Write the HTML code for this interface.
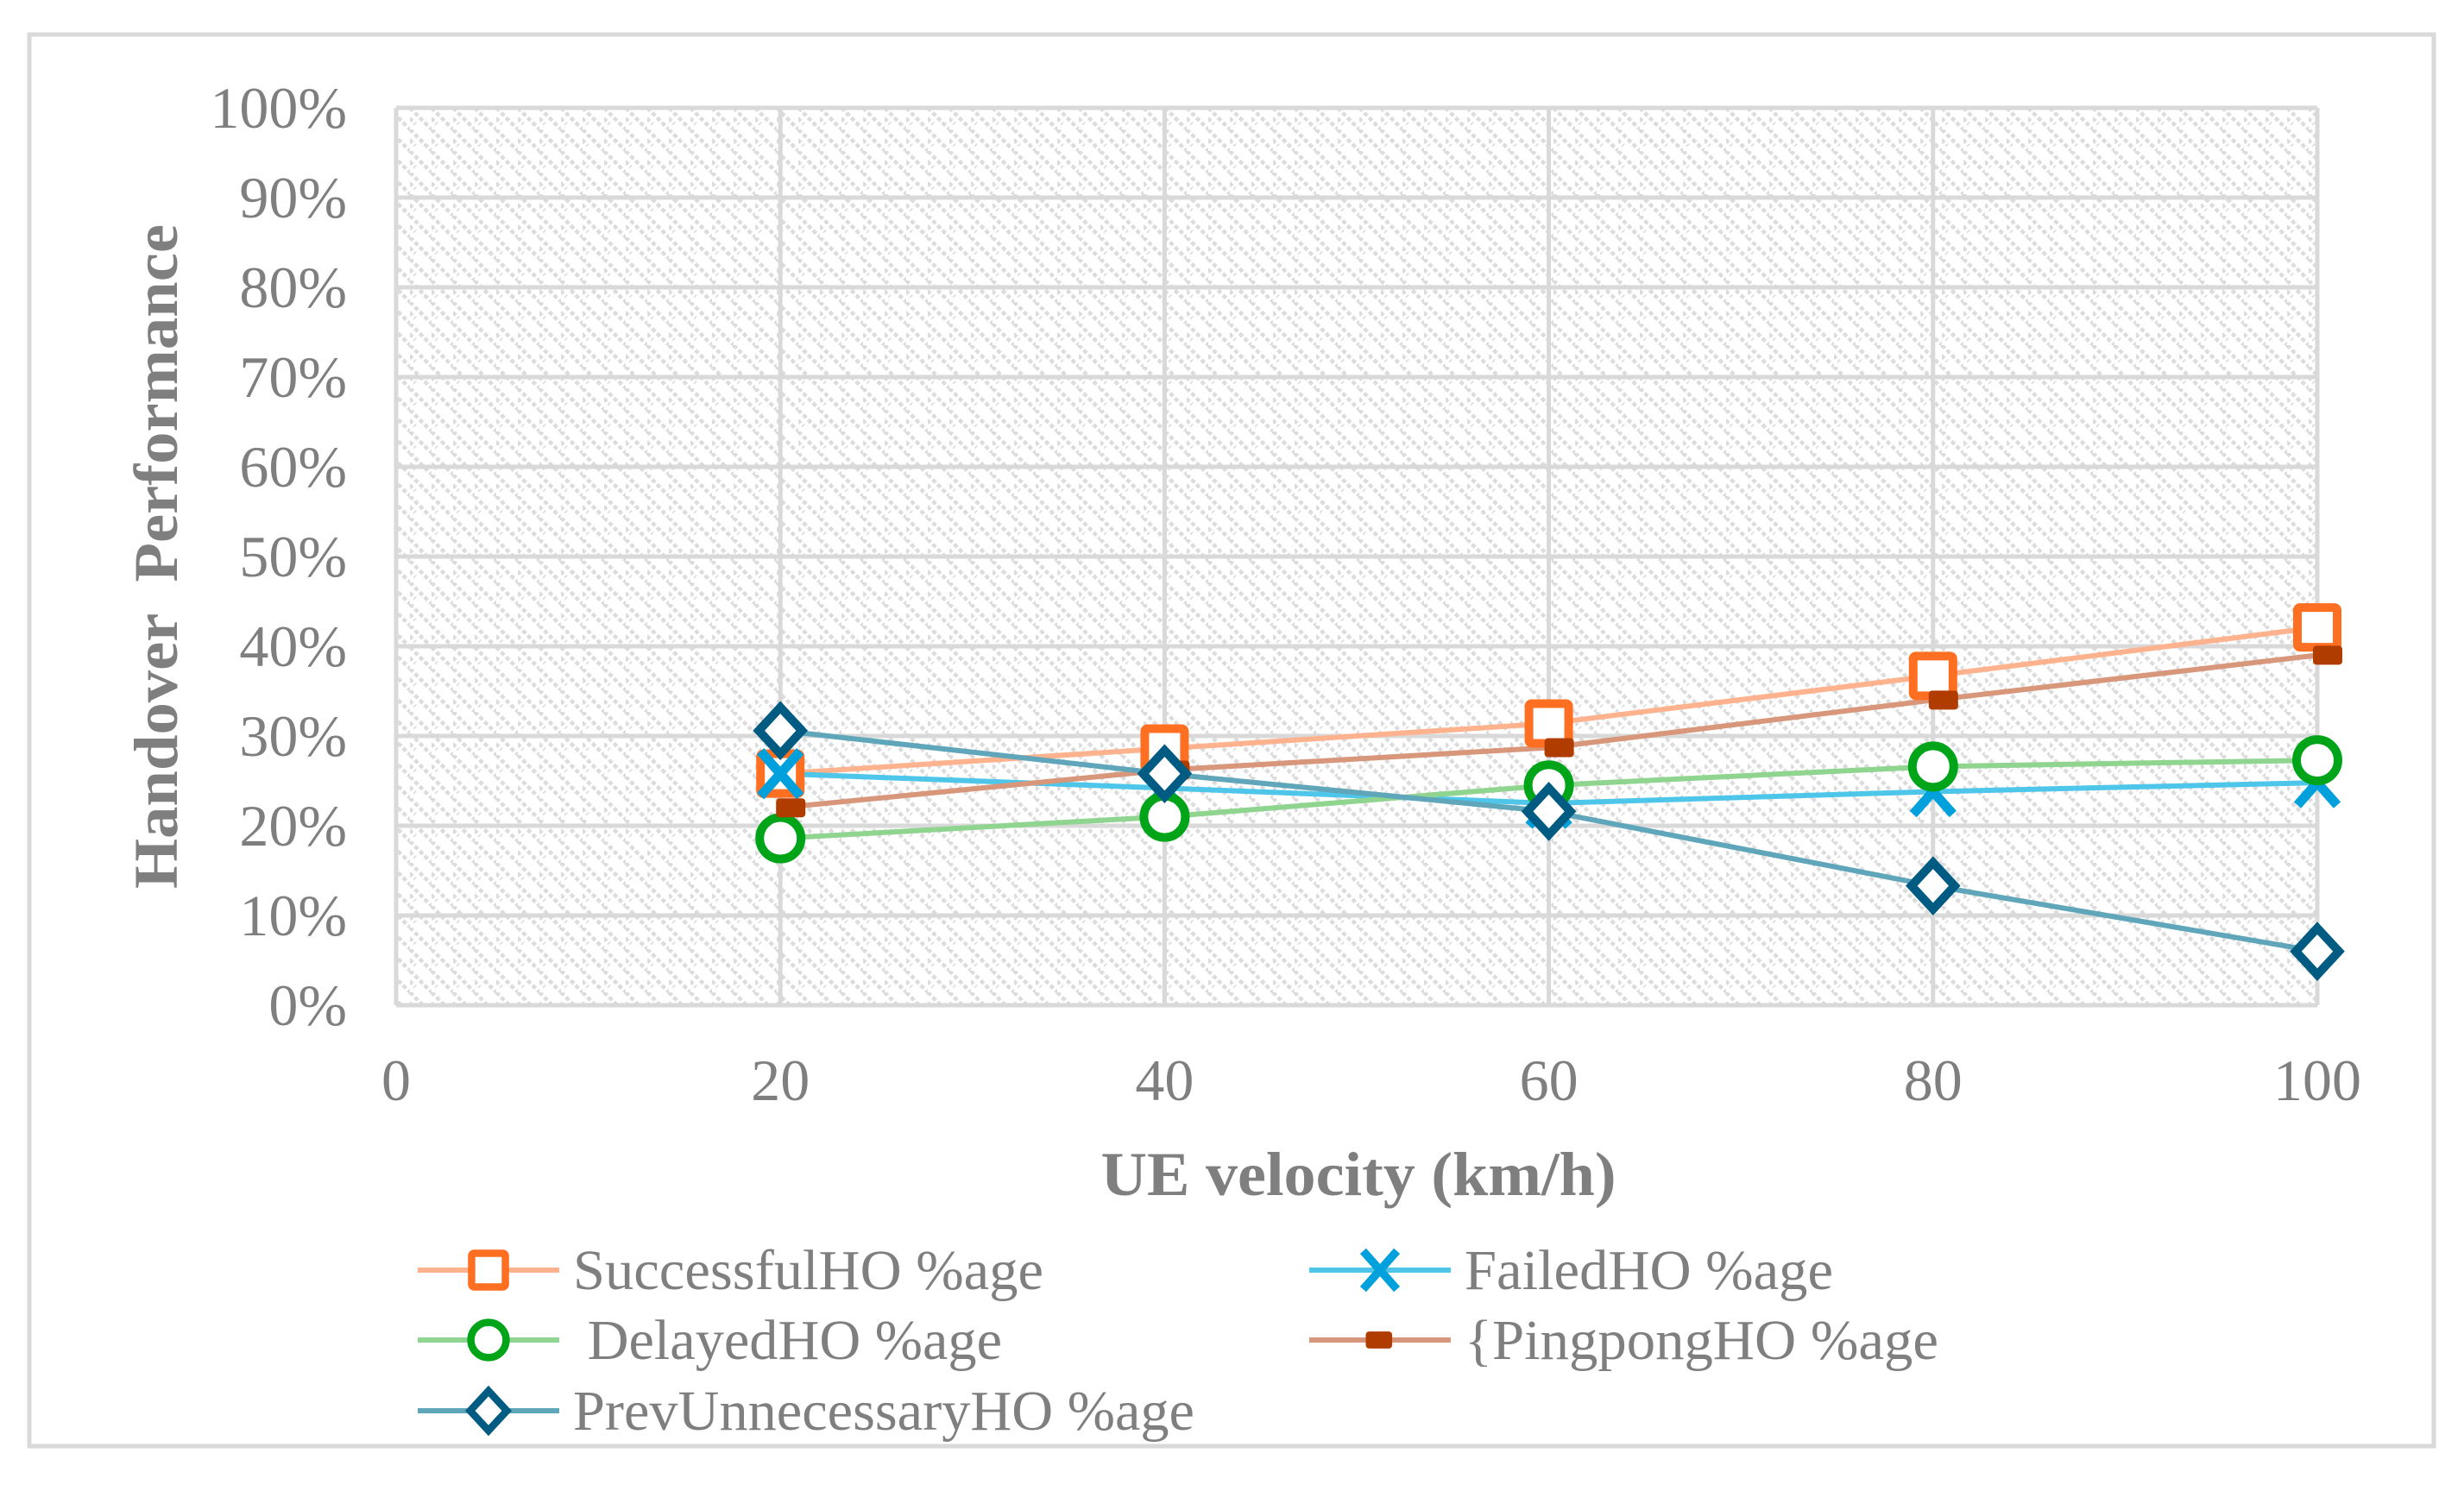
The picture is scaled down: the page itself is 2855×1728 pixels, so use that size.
<!DOCTYPE html>
<html><head><meta charset="utf-8"><style>html,body{margin:0;padding:0;background:#fff}svg{display:block}</style></head>
<body>
<svg id="chart" xmlns="http://www.w3.org/2000/svg" width="2855" height="1728" viewBox="0 0 2855 1728" font-family="'Liberation Serif', serif">
<defs>
<pattern id="hatch" patternUnits="userSpaceOnUse" width="25" height="25">
<path d="M-6.25,6.25 L6.25,18.75 M0,0 L25,25 M18.75,-6.25 L31.25,6.25" stroke="#dcdcdc" stroke-width="4.5" stroke-dasharray="5 3"/>
</pattern>
</defs>
<rect x="34" y="40" width="2786" height="1636" fill="#fff" stroke="#d9d9d9" stroke-width="5"/>
<rect x="459" y="125" width="2226" height="1040" fill="url(#hatch)"/>
<g id="grid"></g>
<g id="series"></g>
<g id="ticks" fill="#7f7f7f" font-size="68"></g>
<text x="1574" y="1385" text-anchor="middle" font-size="72" font-weight="bold" fill="#7f7f7f" textLength="597" lengthAdjust="spacingAndGlyphs">UE velocity (km/h)</text>
<text transform="translate(205,645) rotate(-90)" text-anchor="middle" font-size="72" font-weight="bold" fill="#7f7f7f" textLength="770" lengthAdjust="spacingAndGlyphs" xml:space="preserve">Handover  Performance</text>
<g id="legend" font-size="66" fill="#7f7f7f"></g>
</svg>
<script>
const xValues = [20, 40, 60, 80, 100];
const successful = [25.8, 28.6, 31.4, 36.7, 42.1];
const failed = [25.8, 24.2, 22.5, 23.8, 24.8];
const delayed = [18.6, 21.0, 24.5, 26.6, 27.3];
const pingpong = [22.0, 26.2, 28.7, 34.0, 39.0];
const prevUnnecessary = [30.6, 25.8, 21.6, 13.3, 6.0];
const xTicks = [0, 20, 40, 60, 80, 100];
const yTicks = [0, 10, 20, 30, 40, 50, 60, 70, 80, 90, 100];
const yTickLabels = ['0%','10%','20%','30%','40%','50%','60%','70%','80%','90%','100%'];

const NS = 'http://www.w3.org/2000/svg';
const X0 = 459, X1 = 2685, Y0 = 1165, Y1 = 125;
const xs = v => X0 + (v / 100) * (X1 - X0);
const ys = v => Y0 - (v / 100) * (Y0 - Y1);
function mk(tag, attrs, parent) {
  const e = document.createElementNS(NS, tag);
  for (const k in attrs) e.setAttribute(k, attrs[k]);
  parent.appendChild(e);
  return e;
}
const grid = document.getElementById('grid');
const ticks = document.getElementById('ticks');
yTicks.forEach((t, i) => {
  const l = mk('line', {x1: X0, x2: X1, y1: ys(t), y2: ys(t), stroke: '#d9d9d9', 'stroke-width': 5}, grid);
  
  
  const tx = mk('text', {x: 402, y: ys(t) + 23, 'text-anchor': 'end'}, ticks);
  tx.textContent = yTickLabels[i];
  
  
});
xTicks.forEach(t => {
  const l = mk('line', {x1: xs(t), x2: xs(t), y1: Y1, y2: Y0, stroke: '#d9d9d9', 'stroke-width': 5}, grid);
  
  
  const tx = mk('text', {x: xs(t), y: 1275, 'text-anchor': 'middle'}, ticks);
  tx.textContent = String(t);
  
  
});

function marker(type, cx, cy, color, parent, s) {
  let e;
  if (type === 'square') e = mk('rect', {x: cx - 23*s, y: cy - 23*s, width: 46*s, height: 46*s, rx: 3, fill: '#fff', stroke: color, 'stroke-width': 10*s}, parent);
  else if (type === 'circle') e = mk('ellipse', {cx: cx, cy: cy, rx: 24*s, ry: 24*s, fill: '#fff', stroke: color, 'stroke-width': 10*s}, parent);
  else if (type === 'diamond') e = mk('path', {d: `M${cx},${cy-27*s} L${cx+25*s},${cy} L${cx},${cy+27*s} L${cx-25*s},${cy} Z`, fill: '#fff', stroke: color, 'stroke-width': 10*s, 'stroke-linejoin': 'miter'}, parent);
  else if (type === 'x') e = mk('path', {d: `M${cx-23*s},${cy-26*s} L${cx+23*s},${cy+26*s} M${cx+23*s},${cy-26*s} L${cx-23*s},${cy+26*s}`, stroke: color, 'stroke-width': 11*s, fill: 'none'}, parent);
  else e = mk('rect', {x: cx + 12*s - 17*s, y: cy - 11*s, width: 34*s, height: 22*s, rx: 4, fill: color}, parent);
  return e;
}
const seriesDefs = [
  {name: 'SuccessfulHO %age', data: successful, line: '#ffb28e', mc: '#ff6f22', m: 'square', key: 'successful', tl: 545},
  {name: 'FailedHO %age', data: failed, line: '#4ec6ea', mc: '#00a0dc', m: 'x', key: 'failed', tl: 427},
  {name: ' DelayedHO %age', data: delayed, line: '#8fd48f', mc: '#00a419', m: 'circle', key: 'delayed', tl: 497},
  {name: '{PingpongHO %age', data: pingpong, line: '#d8967a', mc: '#b03c00', m: 'small', key: 'pingpong', tl: 549},
  {name: 'PrevUnnecessaryHO %age', data: prevUnnecessary, line: '#5fa6bb', mc: '#005b82', m: 'diamond', key: 'prev-unnecessary', tl: 720}
];
const sg = document.getElementById('series');
const lineLayer = mk('g', {}, sg);
const markLayer = mk('g', {}, sg);
seriesDefs.forEach(s => {
  const pts = s.data.map((v, i) => `${xs(xValues[i])},${ys(v)}`).join(' ');
  const pl = mk('polyline', {points: pts, fill: 'none', stroke: s.line, 'stroke-width': 6}, lineLayer);
  
  
});
seriesDefs.forEach(s => {
  s.data.forEach((v, i) => {
    const e = marker(s.m, xs(xValues[i]), ys(v), s.mc, markLayer, 1);
    
    
  });
});
const lg = document.getElementById('legend');
const legendPos = [[484, 1472], [1517, 1472], [484, 1553], [1517, 1553], [484, 1635]];
seriesDefs.forEach((s, i) => {
  const [lx, ly] = legendPos[i];
  const g = mk('g', {}, lg);
  
  
  mk('line', {x1: lx, x2: lx + 164, y1: ly, y2: ly, stroke: s.line, 'stroke-width': 6}, g);
  const mx = lx + 82;
  if (s.m === 'small') marker('small', mx - 12, ly, s.mc, g, 0.9);
  else marker(s.m, mx, ly, s.mc, g, 0.85);
  const t = mk('text', {x: lx + 180, y: ly + 22, textLength: s.tl, lengthAdjust: 'spacingAndGlyphs'}, g);
  t.setAttribute('xml:space', 'preserve');
  t.style.whiteSpace = 'pre';
  t.textContent = s.name;
});
</script>
</body></html>
